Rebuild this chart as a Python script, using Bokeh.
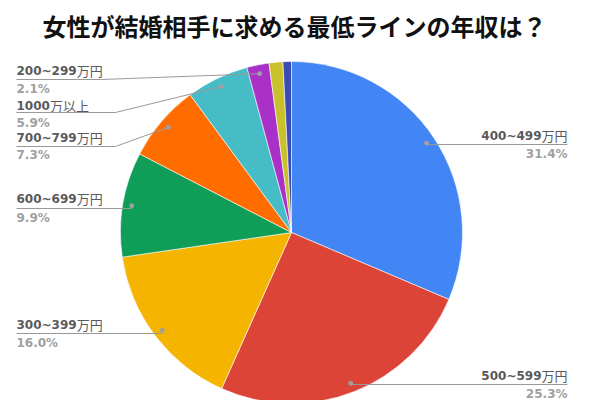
import numpy as np
from bokeh.plotting import figure
from bokeh.models import Range1d, ColumnDataSource
from bokeh.core.properties import value
from bokeh.embed import file_html
from bokeh.resources import INLINE

# ---------------- data ----------------
title = "女性が結婚相手に求める最低ラインの年収は？"
range_labels = ["400~499", "500~599", "300~399", "600~699", "700~799", "1000", "200~299", "", ""]
unit_labels = ["万円", "万円", "万円", "万円", "万円", "万以上", "万円", "", ""]
shares = [31.4, 25.3, 16.0, 9.9, 7.3, 5.9, 2.1, 1.3, 0.8]
colors = ["#4285F4", "#DB4437", "#F4B400", "#0F9D58", "#FF6D00",
          "#46BDC6", "#A931C8", "#C9C12B", "#3A4CB1"]

# ---------------- layout (picture pixel positions) ----------------
W, H = 582, 400
def Y(py):
    return H - py

CX, CY, R = 291, Y(232), 171
DOT_R = 162
LEFT_X, RIGHT_X = 16, 567
NUM_PX = 12
# side, name_y, line_y, pct_y, elbow_x  (per labelled slice, in order)
label_layout = [
    ("right", 135, 144, 153, None),
    ("right", 375, 384, 393, None),
    ("left", 324, 333, 342, None),
    ("left", 198, 208, 217, None),
    ("left", 137, 146, 154, 115),
    ("left", 105, 112, 122, 115),
    ("left", 70, 79, 88, 101),
]

p = figure(width=W, height=H, x_range=Range1d(0, W), y_range=Range1d(0, H),
           output_backend="svg", toolbar_location=None, min_border=0)
p.axis.visible = False
p.grid.visible = False
p.outline_line_color = None
p.background_fill_color = "white"
p.border_fill_color = "white"

# wedges
vals = np.array(shares, dtype=float)
frac = vals / vals.sum()
cum = np.concatenate([[0.0], np.cumsum(frac)])
start = np.pi / 2 - 2 * np.pi * cum[:-1]
end = np.pi / 2 - 2 * np.pi * cum[1:]
src = ColumnDataSource(dict(start=start, end=end, color=colors))
p.wedge(x=CX, y=CY, radius=R, start_angle="start", end_angle="end", direction="clock",
        fill_color="color", line_color="white", line_width=0.6, source=src)

# labels, leader lines, dots
mid = np.pi / 2 - 2 * np.pi * (cum[:-1] + cum[1:]) / 2
lxs, lys, dx, dy = [], [], [], []
num_font = value("DejaVu Sans")
cjk_font = value("Noto Sans CJK JP")
text_col = "#5a5a5a"
pct_col = "#a0a0a0"

def num_width(s):
    return sum((0.838 if ch == "~" else 0.696) * NUM_PX for ch in s)

for i, (side, ny, ly, py, elbow) in enumerate(label_layout):
    px_dot = CX + DOT_R * np.cos(mid[i])
    py_dot = CY + DOT_R * np.sin(mid[i])
    dx.append(px_dot)
    dy.append(py_dot)
    ax = LEFT_X if side == "left" else RIGHT_X
    xs = [ax]
    ys = [Y(ly)]
    if elbow is not None:
        xs.append(elbow)
        ys.append(Y(ly))
    else:
        xs.append(px_dot)
        ys.append(Y(ly))
    xs.append(px_dot)
    ys.append(py_dot)
    lxs.append(xs)
    lys.append(ys)

    num = range_labels[i]
    unit = unit_labels[i]
    pct = f"{shares[i]:.1f}%"
    fs = f"{NUM_PX}px"
    if side == "left":
        nx = LEFT_X
        ux = LEFT_X + num_width(num)
        p.text([nx], [Y(ny)], text=[num], text_font=num_font, text_font_size=fs,
               text_font_style="bold", text_color=text_col, text_align="left", text_baseline="middle")
        p.text([ux], [Y(ny)], text=[unit], text_font=cjk_font, text_font_size="13px",
               text_color=text_col, text_align="left", text_baseline="middle")
        p.text([LEFT_X], [Y(py)], text=[pct], text_font=num_font, text_font_size=fs,
               text_font_style="bold", text_color=pct_col, text_align="left", text_baseline="middle")
    else:
        ux = RIGHT_X
        nx = RIGHT_X - 13 * len(unit)
        p.text([ux], [Y(ny)], text=[unit], text_font=cjk_font, text_font_size="13px",
               text_color=text_col, text_align="right", text_baseline="middle")
        p.text([nx], [Y(ny)], text=[num], text_font=num_font, text_font_size=fs,
               text_font_style="bold", text_color=text_col, text_align="right", text_baseline="middle")
        p.text([RIGHT_X], [Y(py)], text=[pct], text_font=num_font, text_font_size=fs,
               text_font_style="bold", text_color=pct_col, text_align="right", text_baseline="middle")

p.multi_line(lxs, lys, line_color="#999999", line_width=1)
p.scatter(dx, dy, size=4, color="#a0a0a0")

# title
p.text([294], [Y(25)], text=[title], text_font=cjk_font, text_font_size="24px",
       text_font_style="bold", text_color="#111111", text_align="center", text_baseline="middle")

open("out.html", "w").write(file_html(p, INLINE))
